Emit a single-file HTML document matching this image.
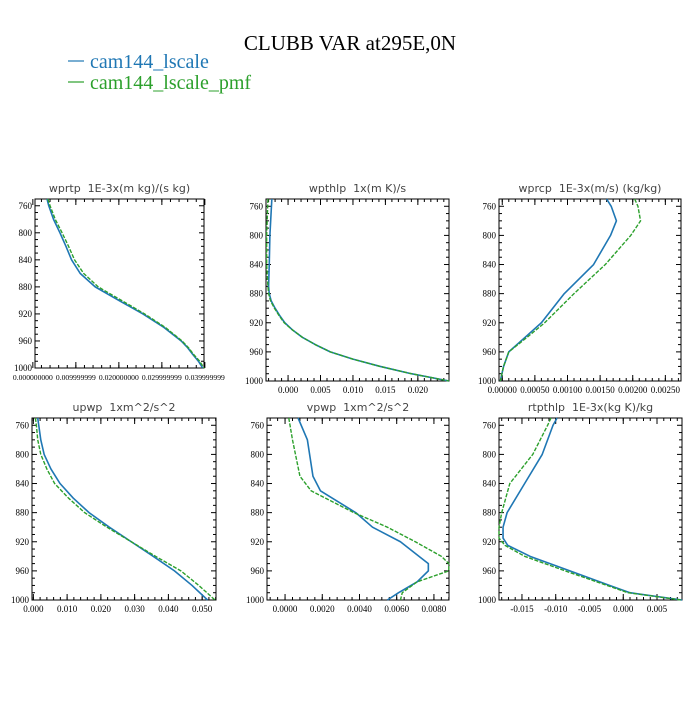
<!DOCTYPE html>
<html><head><meta charset="utf-8"><style>
body{margin:0;background:#fff;}
svg text{font-family:"Liberation Serif",serif;white-space:pre;}
</style></head><body>
<svg id="c" width="700" height="700" xmlns="http://www.w3.org/2000/svg">
<rect width="700" height="700" fill="#fff"/>
<text x="350" y="50" font-size="21" text-anchor="middle">CLUBB VAR at295E,0N</text>
<g>
<line x1="68" y1="61" x2="84" y2="61" stroke="#1f77b4" stroke-width="1.2"/>
<text x="90" y="68" font-size="20" fill="#1f77b4">cam144_lscale</text>
<line x1="68" y1="82" x2="84" y2="82" stroke="#2ca02c" stroke-width="1.2"/>
<text x="90" y="89" font-size="20" fill="#2ca02c">cam144_lscale_pmf</text>
</g>
</svg>
<script>
const yTicks=[760,800,840,880,920,960,1000];
const p1Lev=[750,760,780,800,820,840,860,880,900,920,940,960,970,980,990,1000];
const p1Blue=[0.0033,0.0037,0.0048,0.0063,0.0077,0.009,0.011,0.0145,0.02,0.0256,0.0305,0.0345,0.036,0.0372,0.0385,0.0395];
const p1Green=[0.0035,0.004,0.0052,0.0068,0.0083,0.0097,0.0118,0.0152,0.0206,0.026,0.0308,0.0347,0.0362,0.0374,0.0388,0.0398];
const p1Ticks=[0,0.01,0.02,0.03,0.04];
const p1Labels=["0.000000000","0.009999999","0.020000000","0.029999999","0.039999999"];
const p2Lev=[750,800,840,870,880,890,900,910,920,930,940,950,960,970,980,990,1000];
const p2Blue=[-0.0025,-0.0028,-0.0029,-0.003,-0.0029,-0.0026,-0.002,-0.0013,-0.0005,0.0007,0.0022,0.0042,0.0065,0.01,0.0142,0.019,0.0248];
const p2Green=[-0.0031,-0.0033,-0.0033,-0.0031,-0.003,-0.0027,-0.0021,-0.0014,-0.0006,0.0007,0.0022,0.0042,0.0065,0.01,0.0142,0.019,0.0248];
const p2Ticks=[0,0.005,0.01,0.015,0.02];
const p2Labels=["0.000","0.005","0.010","0.015","0.020"];
const p3Lev=[750,760,780,800,840,880,920,940,960,980,1000];
const p3Blue=[0.0016,0.00167,0.00175,0.00166,0.0014,0.00095,0.0006,0.00035,0.0001,0.00002,-0.00003];
const p3Green=[0.00203,0.00208,0.00212,0.00197,0.00158,0.0011,0.00065,0.00038,0.0001,0.00002,-0.00003];
const p3Ticks=[0,0.0005,0.001,0.0015,0.002,0.0025];
const p3Labels=["0.00000","0.00050","0.00100","0.00150","0.00200","0.00250"];
const p4Lev=[750,760,780,800,820,840,860,880,900,920,940,960,980,1000];
const p4Blue=[0.0013,0.0016,0.0022,0.0032,0.0052,0.0079,0.0118,0.0165,0.0225,0.029,0.0355,0.0418,0.047,0.0516];
const p4Green=[0.0006,0.0009,0.0013,0.0022,0.004,0.0063,0.0104,0.0152,0.0218,0.029,0.0362,0.0437,0.049,0.0538];
const p4Ticks=[0,0.01,0.02,0.03,0.04,0.05];
const p4Labels=["0.000","0.010","0.020","0.030","0.040","0.050"];
const p5Lev=[750,780,830,850,880,900,920,940,950,960,975,990,1000];
const p5Blue=[0.0007,0.0012,0.0015,0.0019,0.0038,0.0047,0.0062,0.0072,0.0077,0.0077,0.0071,0.0061,0.0055];
const p5Green=[0.0002,0.0004,0.0008,0.0014,0.0037,0.0055,0.007,0.0084,0.0088,0.0088,0.0071,0.0063,0.0062];
const p5Ticks=[0,0.002,0.004,0.006,0.008];
const p5Labels=["0.0000","0.0020","0.0040","0.0060","0.0080"];
const p6Lev=[750,760,800,840,880,900,915,925,940,960,980,990,1000];
const p6Blue=[-0.0098,-0.0104,-0.012,-0.0146,-0.0172,-0.0178,-0.0178,-0.0171,-0.0138,-0.0079,-0.002,0.001,0.0087];
const p6Green=[-0.0107,-0.0112,-0.0134,-0.0168,-0.018,-0.0184,-0.0184,-0.0175,-0.0146,-0.0086,-0.0024,0.0007,0.0086];
const p6Ticks=[-0.015,-0.01,-0.005,0,0.005];
const p6Labels=["-0.015","-0.010","-0.005","0.000","0.005"];

const panels=[
 {name:"wprtp",title:"wprtp  1E-3x(m kg)/(s kg)",L:35,R:204,T:199,B:368,x0:0.0005,x1:0.0398,minor:0.002,lev:p1Lev,b:p1Blue,g:p1Green,ticks:p1Ticks,labels:p1Labels,fs:7.6},
 {name:"wpthlp",title:"wpthlp  1x(m K)/s",L:266,R:449,T:199,B:381,x0:-0.0034,x1:0.0248,minor:0.001,lev:p2Lev,b:p2Blue,g:p2Green,ticks:p2Ticks,labels:p2Labels,fs:9},
 {name:"wprcp",title:"wprcp  1E-3x(m/s) (kg/kg)",L:499,R:681,T:199,B:381,x0:-0.00005,x1:0.00274,minor:0.0001,lev:p3Lev,b:p3Blue,g:p3Green,ticks:p3Ticks,labels:p3Labels,fs:9},
 {name:"upwp",title:"upwp  1xm^2/s^2",L:32,R:216,T:418,B:600,x0:-0.0004,x1:0.0541,minor:0.002,lev:p4Lev,b:p4Blue,g:p4Green,ticks:p4Ticks,labels:p4Labels,fs:9},
 {name:"vpwp",title:"vpwp  1xm^2/s^2",L:267,R:449,T:418,B:600,x0:-0.00097,x1:0.00881,minor:0.0004,lev:p5Lev,b:p5Blue,g:p5Green,ticks:p5Ticks,labels:p5Labels,fs:9},
 {name:"rtpthlp",title:"rtpthlp  1E-3x(kg K)/kg",L:499,R:682,T:418,B:600,x0:-0.0184,x1:0.0087,minor:0.001,lev:p6Lev,b:p6Blue,g:p6Green,ticks:p6Ticks,labels:p6Labels,fs:9}
];
const NS="http://www.w3.org/2000/svg";
const svg=document.getElementById('c');
function mk(tag,attrs,parent){const e=document.createElementNS(NS,tag);for(const k in attrs)e.setAttribute(k,attrs[k]);parent.appendChild(e);return e;}
panels.forEach(P=>{
 const g=mk('g',{},svg);
 
 
 const xs=v=>P.L+(v-P.x0)/(P.x1-P.x0)*(P.R-P.L);
 const ys=p=>P.T+(p-750)/250*(P.B-P.T);
 const t=mk('text',{x:(P.L+P.R)/2,y:P.T-7,'font-size':11,'text-anchor':'middle',fill:'#444',style:'font-family:"DejaVu Sans",sans-serif;white-space:pre'},g);
 t.textContent=P.title;
 
 
 for(let p=760;p<=1000;p+=10){const y=ys(p);const maj=(p-760)%40===0;const len=maj?5:3;
  const l1=mk('line',{x1:P.L,y1:y,x2:P.L+len,y2:y,stroke:'#000','stroke-width':1},g);
  
  
  const l2=mk('line',{x1:P.R,y1:y,x2:P.R-len,y2:y,stroke:'#000','stroke-width':1},g);
  
  
 }
 yTicks.forEach(p=>{const tx=mk('text',{x:P.L-3,y:ys(p)+3,'font-size':9,'text-anchor':'end'},g);tx.textContent=p;
  
  });
 const s=Math.ceil(P.x0/P.minor);
 for(let i=s;i*P.minor<=P.x1+1e-12;i++){const v=i*P.minor;const x=xs(v);
  const l1=mk('line',{x1:x,y1:P.B,x2:x,y2:P.B-3,stroke:'#000','stroke-width':1},g);
  
  
  const l2=mk('line',{x1:x,y1:P.T,x2:x,y2:P.T+3,stroke:'#000','stroke-width':1},g);
  
  
 }
 P.ticks.forEach((v,i)=>{const x=xs(v);
  const l1=mk('line',{x1:x,y1:P.B,x2:x,y2:P.B-6,stroke:'#000','stroke-width':1},g);
  
  
  const l2=mk('line',{x1:x,y1:P.T,x2:x,y2:P.T+6,stroke:'#000','stroke-width':1},g);
  
  
  const tx=mk('text',{x:x,y:P.B+12,'font-size':P.fs,'text-anchor':'middle'},g);tx.textContent=P.labels[i];
  
  
 });
 const fr=mk('rect',{x:P.L,y:P.T,width:P.R-P.L,height:P.B-P.T,fill:'none',stroke:'#000','stroke-width':1},g);
 
 
 const pb=mk('polyline',{points:P.lev.map((p,i)=>xs(P.b[i])+','+ys(p)).join(' '),fill:'none',stroke:'#1f77b4','stroke-width':1.6,'stroke-linejoin':'round'},g);
 
 
 const pg=mk('polyline',{points:P.lev.map((p,i)=>xs(P.g[i])+','+ys(p)).join(' '),fill:'none',stroke:'#2ca02c','stroke-width':1.4,'stroke-dasharray':'4,1.5','stroke-linejoin':'round'},g);
 
 
});
</script>
</body></html>
